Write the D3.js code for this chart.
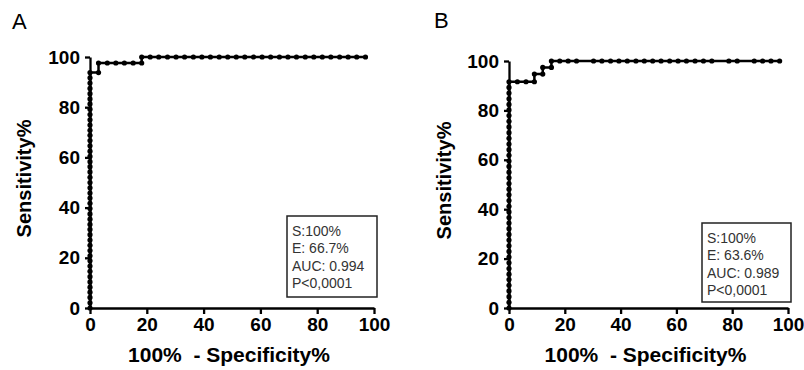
<!DOCTYPE html>
<html>
<head>
<meta charset="utf-8">
<script src="https://cdn.jsdelivr.net/npm/d3@7"></script>
<style>
  body { margin: 0; background: #fff; }
  svg { display: block; font-family: "Liberation Sans", Arial, sans-serif; }
</style>
</head>
<body>
<svg id="chart" width="804" height="370"></svg>
<script>
// axis ticks shared by both panels
const ticks = [0, 20, 40, 60, 80, 100];

// panel A: ROC points [100% - specificity, sensitivity]
const rocA = [
  [0, 0], [0, 2.1], [0, 4.2], [0, 6.3], [0, 8.3], [0, 10.4], [0, 12.5], [0, 14.6], [0, 16.7], [0, 18.8],
  [0, 20.8], [0, 22.9], [0, 25.0], [0, 27.1], [0, 29.2], [0, 31.3], [0, 33.3], [0, 35.4], [0, 37.5], [0, 39.6],
  [0, 41.7], [0, 43.8], [0, 45.8], [0, 47.9], [0, 50.0], [0, 52.1], [0, 54.2], [0, 56.3], [0, 58.3], [0, 60.4],
  [0, 62.5], [0, 64.6], [0, 66.7], [0, 68.8], [0, 70.8], [0, 72.9], [0, 75.0], [0, 77.1], [0, 79.2], [0, 81.3],
  [0, 83.3], [0, 85.4], [0, 87.5], [0, 89.6], [0, 91.7], [0, 93.8],
  [3.0, 93.8], [3.0, 97.6], [6.1, 97.6], [9.1, 97.6], [12.1, 97.6], [15.2, 97.6], [18.2, 97.6],
  [18.2, 100], [21.2, 100], [24.2, 100], [27.3, 100], [30.3, 100], [33.3, 100], [36.4, 100], [39.4, 100],
  [42.4, 100], [45.5, 100], [48.5, 100], [51.5, 100], [54.5, 100], [57.6, 100], [60.6, 100], [63.6, 100],
  [66.7, 100], [69.7, 100], [72.7, 100], [75.8, 100], [78.8, 100], [81.8, 100], [84.8, 100], [87.9, 100],
  [90.9, 100], [93.9, 100], [97.0, 100]
];

// panel B: ROC points [100% - specificity, sensitivity]
const rocB = [
  [0, 0], [0, 2.3], [0, 4.6], [0, 6.9], [0, 9.2], [0, 11.5], [0, 13.7], [0, 16.0], [0, 18.3], [0, 20.6],
  [0, 22.9], [0, 25.2], [0, 27.5], [0, 29.8], [0, 32.1], [0, 34.4], [0, 36.6], [0, 38.9], [0, 41.2], [0, 43.5],
  [0, 45.8], [0, 48.1], [0, 50.4], [0, 52.7], [0, 55.0], [0, 57.3], [0, 59.5], [0, 61.8], [0, 64.1], [0, 66.4],
  [0, 68.7], [0, 71.0], [0, 73.3], [0, 75.6], [0, 77.9], [0, 80.2], [0, 82.4], [0, 84.7], [0, 87.0], [0, 89.3],
  [0, 91.6],
  [3.0, 91.6], [6.1, 91.6], [9.1, 91.6], [9.1, 94.7], [12.1, 94.7], [12.1, 97.4], [15.2, 97.4],
  [15.2, 100], [18.2, 100], [21.2, 100], [24.2, 100], [30.3, 100], [33.3, 100], [36.4, 100], [39.4, 100],
  [42.4, 100], [45.5, 100], [48.5, 100], [51.5, 100], [54.5, 100], [57.6, 100], [60.6, 100], [63.6, 100],
  [66.7, 100], [69.7, 100], [72.7, 100], [78.8, 100], [81.8, 100], [87.9, 100], [90.9, 100], [93.9, 100],
  [97.0, 100]
];

const statsA = ['S:100%', 'E: 66.7%', 'AUC: 0.994', 'P<0,0001'];
const statsB = ['S:100%', 'E: 63.6%', 'AUC: 0.989', 'P<0,0001'];

const panels = [
  { letter: 'A', data: rocA, stats: statsA, left: 90, top: 57, width: 284, height: 251,
    letterX: 12, letterY: 29, titleYX: 31, box: { x: 197, y: 159, w: 90, h: 81 } },
  { letter: 'B', data: rocB, stats: statsB, left: 509, top: 61, width: 279, height: 247,
    letterX: 434, letterY: 28, titleYX: 451, box: { x: 193, y: 162, w: 89, h: 79 } }
];

const svg = d3.select('#chart');

panels.forEach(p => {
  const g = svg.append('g').attr('transform', `translate(${p.left},${p.top})`);

  const x = d3.scaleLinear().domain([0, 100]).range([0, p.width]);
  const y = d3.scaleLinear().domain([0, 100]).range([p.height, 0]);

  // axes
  const xAxis = g.append('g')
    .attr('transform', `translate(0,${p.height})`)
    .call(d3.axisBottom(x).tickValues(ticks).tickSize(6).tickSizeOuter(0).tickPadding(4));
  const yAxis = g.append('g')
    .call(d3.axisLeft(y).tickValues(ticks).tickSize(5).tickSizeOuter(0).tickPadding(5));

  [xAxis, yAxis].forEach(a => {
    a.select('.domain').attr('stroke', '#000').attr('stroke-width', 2.3);
    a.selectAll('.tick line').attr('stroke', '#000').attr('stroke-width', 2.3);
    a.selectAll('.tick text')
      .attr('fill', '#000')
      .style('font-size', '19px')
      .style('font-weight', 'bold')
      .style('font-family', '"Liberation Sans", Arial, sans-serif');
  });

  // ROC curve
  const line = d3.line().x(d => x(d[0])).y(d => y(d[1]));
  g.append('path')
    .datum(p.data)
    .attr('d', line)
    .attr('fill', 'none')
    .attr('stroke', '#000')
    .attr('stroke-width', 2.5);

  g.selectAll('circle.pt')
    .data(p.data)
    .enter()
    .append('circle')
    .attr('class', 'pt')
    .attr('cx', d => x(d[0]))
    .attr('cy', d => y(d[1]))
    .attr('r', 2.6)
    .attr('fill', '#000');

  // stats box
  const box = g.append('g').attr('transform', `translate(${p.box.x},${p.box.y})`);
  box.append('rect')
    .attr('width', p.box.w)
    .attr('height', p.box.h)
    .attr('fill', '#fff')
    .attr('stroke', '#222')
    .attr('stroke-width', 1.5);
  box.selectAll('text')
    .data(p.stats)
    .enter()
    .append('text')
    .attr('x', 5)
    .attr('y', (d, i) => 19.5 + i * 17.5)
    .style('font-size', '14px')
    .attr('fill', '#333')
    .text(d => d);

  // titles
  svg.append('text')
    .attr('x', p.letterX)
    .attr('y', p.letterY)
    .style('font-size', '22px')
    .text(p.letter);

  svg.append('text')
    .attr('transform', `translate(${p.titleYX},${p.top + p.height / 2 - 4}) rotate(-90)`)
    .attr('text-anchor', 'middle')
    .style('font-size', '20px')
    .style('font-weight', 'bold')
    .text('Sensitivity%');

  svg.append('text')
    .attr('x', p.left + p.width / 2 - 3)
    .attr('y', 362)
    .attr('text-anchor', 'middle')
    .style('font-size', '21px')
    .style('font-weight', 'bold')
    .attr('xml:space', 'preserve')
    .text('100%  - Specificity%');
});
</script>
</body>
</html>
